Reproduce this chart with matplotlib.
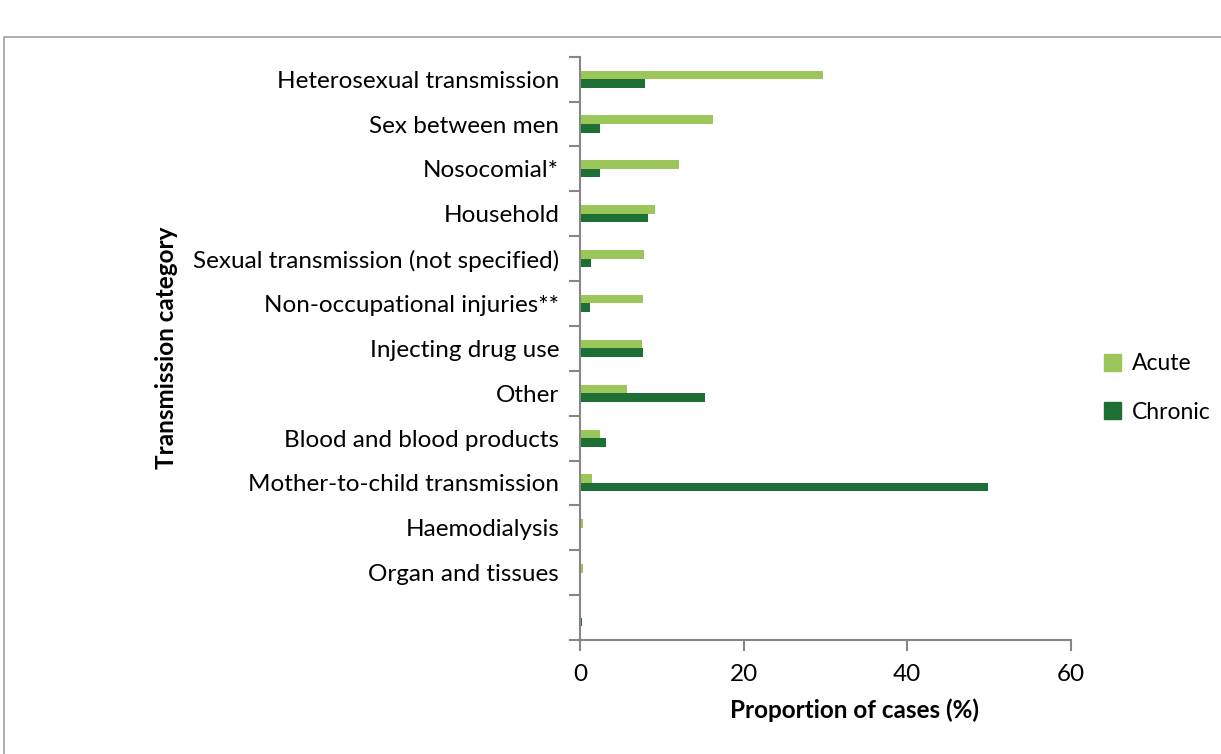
import numpy as np
import matplotlib.pyplot as plt
from matplotlib.patches import Rectangle, Patch

# data, top to bottom
categories = [
    "Heterosexual transmission",
    "Sex between men",
    "Nosocomial*",
    "Household",
    "Sexual transmission (not specified)",
    "Non-occupational injuries**",
    "Injecting drug use",
    "Other",
    "Blood and blood products",
    "Mother-to-child transmission",
    "Haemodialysis",
    "Organ and tissues",
    "",
]
acute = [29.7, 16.2, 12.1, 9.2, 7.8, 7.7, 7.6, 5.7, 2.5, 1.5, 0.4, 0.4, 0.0]
chronic = [8.0, 2.5, 2.5, 8.3, 1.4, 1.2, 7.7, 15.3, 3.2, 49.8, 0.0, 0.1, 0.3]
xticks = [0, 20, 40, 60]

ACUTE_COL = "#9bc659"
CHRONIC_COL = "#1d6f35"
AXIS_COL = "#868686"
FS = 17.5

plt.rcParams['font.family'] = ['Lato', 'DejaVu Sans']

fig = plt.figure(figsize=(12.21, 7.54), dpi=100)
ax = fig.add_axes([580 / 1221, 1 - 640 / 754, (1071 - 580) / 1221, (640 - 56.7) / 754])

n = len(categories)
pos = np.arange(n)[::-1]  # top category at highest y
h = 0.19
ax.barh(pos + h / 2, acute, height=h, color=ACUTE_COL, label="Acute")
ax.barh(pos - h / 2, chronic, height=h, color=CHRONIC_COL, label="Chronic")

ax.set_xlim(0, 60)
ax.set_ylim(-0.5, n - 0.5)
ax.set_xticks(xticks)
ax.set_xticklabels([str(t) for t in xticks], fontsize=FS)

# ticks between categories, labels centred on categories
ax.set_yticks(np.arange(n + 1) - 0.5)
ax.set_yticklabels([])
ax.set_yticks(pos, minor=True)
ax.set_yticklabels(categories, minor=True, fontsize=FS)
ax.tick_params(axis='y', which='minor', length=0, pad=15)
ax.tick_params(axis='y', which='major', length=8, width=1.5, color=AXIS_COL)
ax.tick_params(axis='x', length=8, width=1.5, color=AXIS_COL, pad=9)

for s in ["top", "right"]:
    ax.spines[s].set_visible(False)
for s in ["left", "bottom"]:
    ax.spines[s].set_color(AXIS_COL)
    ax.spines[s].set_linewidth(1.5)

ax.set_xlabel("Proportion of cases (%)", fontsize=FS, fontweight='bold', labelpad=12)
ax.xaxis.set_label_coords(0.56, -0.1)
fig.text(167 / 1221, 1 - 348 / 754, "Transmission category", rotation=90,
         fontsize=FS, fontweight='bold', ha='center', va='center')

handles = [Patch(color=ACUTE_COL), Patch(color=CHRONIC_COL)]
fig.legend(handles, ["Acute", "Chronic"], loc='center left',
           bbox_to_anchor=(1104 / 1221, 1 - 388 / 754), frameon=False,
           fontsize=16.5, handlelength=0.75, handleheight=0.75, labelspacing=1.2,
           handletextpad=0.45, borderpad=0, borderaxespad=0)

# outer frame of the chart
fig.patches.append(Rectangle((4 / 1221, -0.1), 1.2, 1 - 37 / 754 + 0.1,
                             transform=fig.transFigure, fill=False,
                             edgecolor="#a0a0a0", linewidth=1.2))

fig.savefig("out.png", dpi=100)
